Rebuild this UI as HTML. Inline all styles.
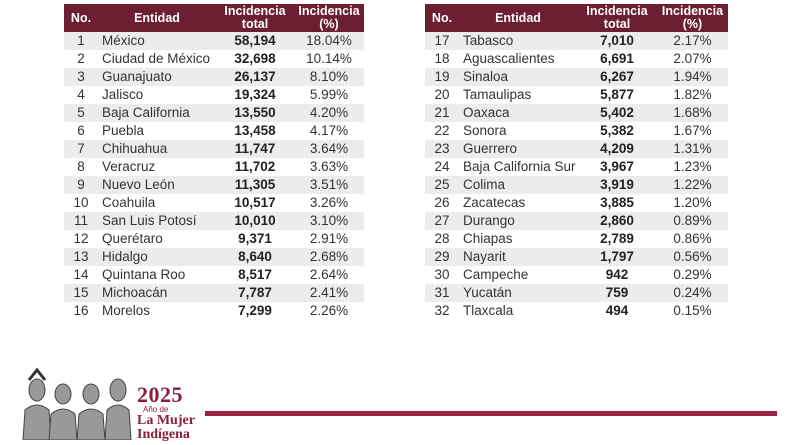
<!DOCTYPE html>
<html><head><meta charset="utf-8"><style>
body{margin:0;width:800px;height:445px;background:#fff;position:relative;overflow:hidden;font-family:"Liberation Sans",sans-serif;}
table{position:absolute;top:4px;border-collapse:collapse;table-layout:fixed;font-size:13.5px;color:#333;}
th{background:#6b1f31;color:#fff;font-weight:bold;font-size:12.5px;line-height:13px;height:28px;padding:0;}
td{height:18px;padding:0;line-height:18px;white-space:nowrap;}
tr:nth-child(even) td{background:#ececec;}
td.n{text-align:center}
td.e{text-align:left;padding-left:4px}
td.t{text-align:center;font-weight:bold;color:#222}
td.p{text-align:center}
.line{position:absolute;left:205px;top:411px;width:572px;height:5px;background:#9b2242;}
.logo{position:absolute;left:137px;top:384px;color:#8a1f3a;font-family:"Liberation Serif",serif;line-height:1;}
</style></head><body>
<table style="left:64px;width:300px">
<colgroup><col style="width:34px"><col style="width:118px"><col style="width:78px"><col style="width:70px"></colgroup>
<tr><th>No.</th><th>Entidad</th><th>Incidencia<br>total</th><th>Incidencia<br>(%)</th></tr>
<tr><td class="n">1</td><td class="e">México</td><td class="t">58,194</td><td class="p">18.04%</td></tr>
<tr><td class="n">2</td><td class="e">Ciudad de México</td><td class="t">32,698</td><td class="p">10.14%</td></tr>
<tr><td class="n">3</td><td class="e">Guanajuato</td><td class="t">26,137</td><td class="p">8.10%</td></tr>
<tr><td class="n">4</td><td class="e">Jalisco</td><td class="t">19,324</td><td class="p">5.99%</td></tr>
<tr><td class="n">5</td><td class="e">Baja California</td><td class="t">13,550</td><td class="p">4.20%</td></tr>
<tr><td class="n">6</td><td class="e">Puebla</td><td class="t">13,458</td><td class="p">4.17%</td></tr>
<tr><td class="n">7</td><td class="e">Chihuahua</td><td class="t">11,747</td><td class="p">3.64%</td></tr>
<tr><td class="n">8</td><td class="e">Veracruz</td><td class="t">11,702</td><td class="p">3.63%</td></tr>
<tr><td class="n">9</td><td class="e">Nuevo León</td><td class="t">11,305</td><td class="p">3.51%</td></tr>
<tr><td class="n">10</td><td class="e">Coahuila</td><td class="t">10,517</td><td class="p">3.26%</td></tr>
<tr><td class="n">11</td><td class="e">San Luis Potosí</td><td class="t">10,010</td><td class="p">3.10%</td></tr>
<tr><td class="n">12</td><td class="e">Querétaro</td><td class="t">9,371</td><td class="p">2.91%</td></tr>
<tr><td class="n">13</td><td class="e">Hidalgo</td><td class="t">8,640</td><td class="p">2.68%</td></tr>
<tr><td class="n">14</td><td class="e">Quintana Roo</td><td class="t">8,517</td><td class="p">2.64%</td></tr>
<tr><td class="n">15</td><td class="e">Michoacán</td><td class="t">7,787</td><td class="p">2.41%</td></tr>
<tr><td class="n">16</td><td class="e">Morelos</td><td class="t">7,299</td><td class="p">2.26%</td></tr>
</table>
<table style="left:425px;width:303px">
<colgroup><col style="width:34px"><col style="width:118px"><col style="width:80px"><col style="width:71px"></colgroup>
<tr><th>No.</th><th>Entidad</th><th>Incidencia<br>total</th><th>Incidencia<br>(%)</th></tr>
<tr><td class="n">17</td><td class="e">Tabasco</td><td class="t">7,010</td><td class="p">2.17%</td></tr>
<tr><td class="n">18</td><td class="e">Aguascalientes</td><td class="t">6,691</td><td class="p">2.07%</td></tr>
<tr><td class="n">19</td><td class="e">Sinaloa</td><td class="t">6,267</td><td class="p">1.94%</td></tr>
<tr><td class="n">20</td><td class="e">Tamaulipas</td><td class="t">5,877</td><td class="p">1.82%</td></tr>
<tr><td class="n">21</td><td class="e">Oaxaca</td><td class="t">5,402</td><td class="p">1.68%</td></tr>
<tr><td class="n">22</td><td class="e">Sonora</td><td class="t">5,382</td><td class="p">1.67%</td></tr>
<tr><td class="n">23</td><td class="e">Guerrero</td><td class="t">4,209</td><td class="p">1.31%</td></tr>
<tr><td class="n">24</td><td class="e">Baja California Sur</td><td class="t">3,967</td><td class="p">1.23%</td></tr>
<tr><td class="n">25</td><td class="e">Colima</td><td class="t">3,919</td><td class="p">1.22%</td></tr>
<tr><td class="n">26</td><td class="e">Zacatecas</td><td class="t">3,885</td><td class="p">1.20%</td></tr>
<tr><td class="n">27</td><td class="e">Durango</td><td class="t">2,860</td><td class="p">0.89%</td></tr>
<tr><td class="n">28</td><td class="e">Chiapas</td><td class="t">2,789</td><td class="p">0.86%</td></tr>
<tr><td class="n">29</td><td class="e">Nayarit</td><td class="t">1,797</td><td class="p">0.56%</td></tr>
<tr><td class="n">30</td><td class="e">Campeche</td><td class="t">942</td><td class="p">0.29%</td></tr>
<tr><td class="n">31</td><td class="e">Yucatán</td><td class="t">759</td><td class="p">0.24%</td></tr>
<tr><td class="n">32</td><td class="e">Tlaxcala</td><td class="t">494</td><td class="p">0.15%</td></tr>
</table>
<svg style="position:absolute;left:15px;top:368px" width="120" height="72" viewBox="0 0 120 72">
<g fill="#999" stroke="#444" stroke-width="1">
<ellipse cx="22" cy="22" rx="8" ry="11"/><path d="M8 72 L10 42 Q22 32 34 42 L36 72Z"/>
<ellipse cx="48" cy="26" rx="8" ry="10"/><path d="M34 72 L36 46 Q48 36 60 46 L62 72Z"/>
<ellipse cx="76" cy="26" rx="8" ry="10"/><path d="M62 72 L64 46 Q76 36 88 46 L90 72Z"/>
<ellipse cx="103" cy="22" rx="8" ry="11"/><path d="M90 72 L92 42 Q103 32 114 42 L116 72Z"/>
</g>
<path d="M14 12 L22 2 L30 12" fill="none" stroke="#333" stroke-width="3"/>
</svg>
<div class="logo"><div style="font-size:22px;font-weight:bold;letter-spacing:0.5px">2025</div>
<div style="font-size:8px;padding-left:6px;font-family:'Liberation Sans',sans-serif">Año de</div>
<div style="font-size:14px;font-weight:bold">La Mujer</div>
<div style="font-size:14px;font-weight:bold">Indígena</div></div>
<div class="line"></div>
</body></html>
